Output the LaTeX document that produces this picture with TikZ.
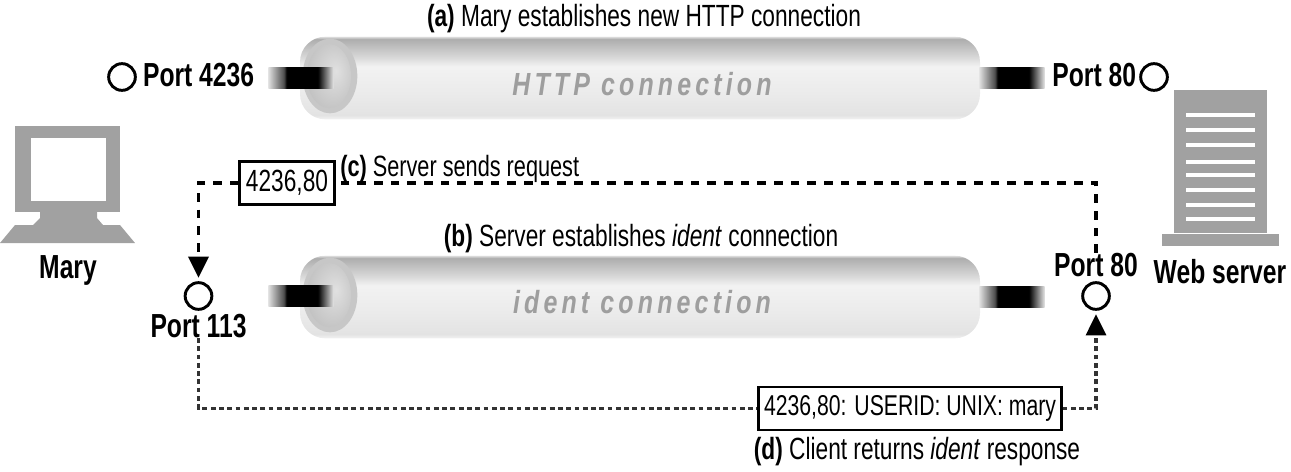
\documentclass[tikz,border=0pt]{standalone}
\usepackage{fontspec}
\setmainfont{Liberation Sans}
\newfontfamily\capfont[FakeStretch=0.74]{Liberation Sans}
\newfontfamily\pipefont[FakeStretch=0.78,LetterSpace=13]{Liberation Sans}
\usetikzlibrary{arrows.meta, positioning, shapes.geometric}
\pgfdeclareverticalshading{pipeshade}{100bp}{
  color(0bp)=(black!5); color(25bp)=(black!5); color(27.5bp)=(black!11); color(40bp)=(black!8);
  color(57bp)=(black!5); color(63bp)=(black!16); color(73.5bp)=(black!32); color(75bp)=(black!12); color(100bp)=(black!12)}
\pgfdeclarehorizontalshading{plugshade}{100bp}{
  color(0bp)=(black!12); color(25bp)=(black!12); color(37bp)=(black!70); color(39bp)=(black);
  color(63bp)=(black); color(67bp)=(black!70); color(75bp)=(black!10); color(100bp)=(black!10)}
\pgfdeclareradialshading{capshade}{\pgfpoint{8bp}{4bp}}{
  color(0bp)=(black!12); color(25bp)=(black!22); color(50bp)=(black!33)}
\definecolor{icongray}{gray}{0.63}
\tikzset{
  every picture/.style={x=0.75pt, y=-0.75pt},
  pipe/.style={rectangle, rounded corners=19pt, minimum width=510pt, minimum height=62pt, shading=pipeshade, inner sep=0pt},
  pipecap/.style={ellipse, fill=black!22, minimum width=41pt, minimum height=56pt, inner sep=0pt},
  pipeface/.style={ellipse, shading=capshade, minimum width=33pt, minimum height=48pt, inner sep=0pt},
  plug/.style={rectangle, shading=plugshade, minimum width=49pt, minimum height=15.5pt, inner sep=0pt},
  port/.style={draw, circle, line width=2.2pt, minimum size=20pt, inner sep=0pt},
  portlabel/.style={font=\capfont\fontsize{25}{25}\selectfont\bfseries, inner sep=0pt},
  caption/.style={font=\capfont\fontsize{23}{23}\selectfont, inner sep=0pt},
  pipelabel/.style={font=\pipefont\fontsize{24}{24}\selectfont\bfseries\itshape, text=black!38, inner sep=0pt},
  msgbox/.style={draw, line width=1.8pt, fill=white, font=\capfont\fontsize{23}{23}\selectfont, inner sep=0pt, minimum height=32pt},
  reqline/.style={line width=2.7pt, dash pattern=on 6.5pt off 6pt},
  respline/.style={line width=2.5pt, dash pattern=on 3.6pt off 2.6pt, black!80},
  tip/.style={-{Triangle[length=16pt, width=15pt, color=black, fill=black]}, shorten >=2.5pt},
  icon/.style={fill=icongray, draw=none}
}
\begin{document}
\begin{tikzpicture}
  \useasboundingbox (0,0) rectangle (1291,471);

  % connection (a)
  \node [pipe] (httppipe) at (640,78) {};
  \node [pipecap] (httpcap) at (330,76) {};
  \node [pipeface] (httpface) at (329,76) {};
  \node [plug] (httplugl) at (301,78) {};
  \node [plug] (httplugr) at (1012,78) {};
  \node [pipelabel] (httptext) at (642,84) {HTTP connection};
  \node [caption] (capa) at (644,19) {{\bfseries (a)} Mary establishes new HTTP connection};

  % connection (b)
  \node [pipe] (identpipe) at (640,297) {};
  \node [pipecap] (identcap) at (330,295) {};
  \node [pipeface] (identface) at (329,295) {};
  \node [plug] (identplugl) at (301,296) {};
  \node [plug] (identplugr) at (1012,297) {};
  \node [pipelabel] (identtext) at (642,302) {ident connection};
  \node [caption] (capb) at (641,239) {{\bfseries (b)} Server establishes \textit{ident} connection};

  % ports
  \node [port] (portmary) at (122,77) {};
  \node [portlabel, right=4.5pt of portmary, yshift=1.5pt] (labmary) {Port 4236};
  \node [port] (portweb) at (1154,77) {};
  \node [portlabel, left=2.2pt of portweb, yshift=1.5pt] (labweb) {Port 80};
  \node [port] (portident) at (198.5,296) {};
  \node [portlabel] (labident) at (198.5,326) {Port 113};
  \node [port] (portresp) at (1096,296) {};
  \node [portlabel] (labresp) at (1096,265) {Port 80};

  % messages
  \node [msgbox, minimum width=71pt] (reqbox) at (287,183) {4236,80};
  \node [msgbox, minimum width=227pt, font=\capfont\fontsize{21.5}{22}\selectfont] (respbox) at (910,408.5) {4236,80: USERID: UNIX: mary};
  \node [caption, anchor=south west, font=\capfont\fontsize{22}{22}\selectfont] (capc) at (340,183) {{\bfseries (c)} Server sends request};
  \node [caption] (capd) at (917,452) {{\bfseries (d)} Client returns \textit{ident} response};

  \draw [reqline] (labresp.north) |- (reqbox.east);
  \draw [reqline, tip] (reqbox.west) -| (portident.north);
  \draw [respline] (labident.south) |- (respbox.west);
  \draw [respline, tip] (respbox.east) -| (portresp.south);

  % Mary
  \fill [icon] (15,126) rectangle (120,212);
  \node [fill=white, minimum width=56pt, minimum height=47pt, inner sep=0pt] (screen) at (68.5,169.5) {};
  \fill [icon] (40,212) -- (97,212) -- (97,218) -- (103,225) -- (120,225) -- (135,243) -- (0,243) -- (15,225) -- (33,225) -- (40,218) -- cycle;
  \node [portlabel] (labuser) at (68,270) {Mary};

  % Web server
  \fill [icon] (1174,90) rectangle (1267,233);
  \fill [icon] (1162,234) rectangle (1279,246);
  \foreach \y in {113,128,143,160,173,188,203,217}
    \fill [white] (1186,\y) rectangle (1255,\y+4);
  \node [portlabel] (labserver) at (1220,272) {Web server};
\end{tikzpicture}
\end{document}
